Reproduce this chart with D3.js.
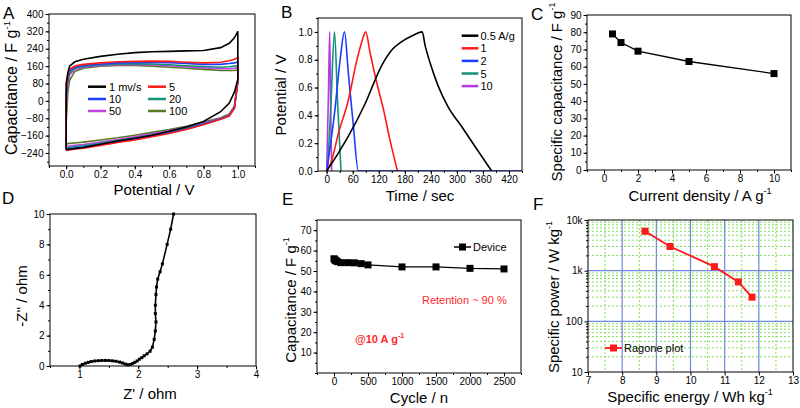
<!DOCTYPE html>
<html><head><meta charset="utf-8">
<script src="https://cdn.jsdelivr.net/npm/d3@7"></script>
<style>
body{margin:0;background:#fff}
text{font-family:"Liberation Sans",Arial,sans-serif}
</style>
</head><body>
<svg id="c" width="800" height="408" xmlns="http://www.w3.org/2000/svg"></svg>
<script>
// ---------- DATA ----------
// A: cyclic voltammetry
const cvPotential = [0, 0.01, 0.02, 0.05, 0.1, 0.2, 0.3, 0.4, 0.5, 0.6, 0.7, 0.8, 0.9, 0.95, 0.98, 1.0];
const cvLabels = ["1 mv/s", "5", "10", "20", "50", "100"];
const cvUpper = [
  [80, 130, 160, 180, 192, 205, 215, 222, 226, 228, 230, 232, 245, 265, 290, 320],
  [40, 120, 145, 160, 168, 175, 180, 182, 183, 182, 178, 175, 178, 185, 192, 200],
  [20, 110, 140, 155, 163, 170, 175, 177, 178, 176, 172, 168, 168, 172, 175, 178],
  [0, 95, 130, 150, 158, 166, 170, 171, 170, 166, 162, 158, 155, 157, 160, 162],
  [-20, 80, 120, 145, 155, 163, 167, 168, 166, 162, 157, 152, 148, 148, 150, 152],
  [-100, 40, 95, 135, 150, 160, 163, 163, 160, 155, 150, 145, 140, 140, 140, 142]
];
const cvLower = [
  [-225, -224, -223, -220, -215, -200, -185, -172, -158, -140, -120, -95, -50, -10, 40, 100],
  [-228, -227, -226, -222, -218, -205, -192, -180, -165, -150, -132, -110, -85, -70, -35, 90],
  [-222, -221, -220, -217, -213, -200, -188, -176, -162, -147, -130, -108, -84, -68, -33, 90],
  [-216, -215, -214, -211, -207, -195, -183, -171, -157, -143, -126, -105, -82, -66, -30, 90],
  [-210, -209, -208, -205, -201, -190, -178, -166, -152, -138, -122, -102, -80, -64, -28, 90],
  [-198, -197, -196, -194, -190, -180, -170, -158, -145, -132, -117, -98, -78, -60, -25, 90]
];
// B: galvanostatic charge/discharge
const gcdLabels = ["0.5 A/g", "1", "2", "5", "10"];
const gcdTime = [
  [0, 25, 50, 88, 127, 150, 173, 196, 220, 227, 238, 257, 280, 311, 341, 380],
  [0, 10, 27, 50, 69, 81, 90, 100, 115, 131, 146, 163],
  [0, 19, 31, 41, 50, 61, 73, 450],
  [2, 10, 18, 25, 33],
  [0, 4, 7, 9, 11.5]
];
const gcdVoltage = [
  [0, 0.12, 0.25, 0.48, 0.76, 0.87, 0.93, 0.97, 1.0, 0.9, 0.78, 0.61, 0.46, 0.32, 0.18, 0],
  [0, 0.06, 0.27, 0.51, 0.79, 0.93, 1.0, 0.85, 0.64, 0.44, 0.22, 0],
  [0, 0.44, 0.8, 1.0, 0.7, 0.34, 0, 0],
  [0, 0.5, 1.0, 0.5, 0],
  [0, 0.55, 1.0, 0.5, 0]
];
// C: rate capability
const rateCurrent = [0.5, 1, 2, 5, 10];
const rateCapacitance = [79, 74, 69, 63, 56];
// D: Nyquist
const nyRe = [1.01, 1.05, 1.1, 1.15, 1.2, 1.26, 1.32, 1.38, 1.44, 1.5, 1.56, 1.62, 1.68, 1.73, 1.78, 1.82, 1.86, 1.9, 1.94, 1.98, 2.02, 2.06, 2.1, 2.15, 2.2, 2.24, 2.27, 2.29, 2.3, 2.29, 2.29, 2.3, 2.31, 2.33, 2.37, 2.41, 2.49, 2.55, 2.6];
const nyIm = [0.0, 0.1, 0.18, 0.24, 0.29, 0.33, 0.35, 0.36, 0.37, 0.36, 0.34, 0.31, 0.26, 0.2, 0.13, 0.08, 0.1, 0.16, 0.24, 0.33, 0.45, 0.55, 0.67, 0.8, 0.97, 1.24, 1.75, 2.3, 2.9, 3.45, 4.0, 4.7, 5.2, 5.72, 6.2, 6.72, 8.0, 9.0, 10.0];
// E: cycling
const cycleN = [0, 10, 20, 30, 50, 100, 200, 300, 400, 500, 1000, 1500, 2000, 2500];
const cycleCap = [56, 55.6, 55.2, 55, 54.6, 54.1, 54.1, 54, 53.6, 53, 52, 52, 51.3, 51];
// F: Ragone
const ragoneEnergy = [8.67, 9.4, 10.7, 11.4, 11.8];
const ragonePower = [6000, 3000, 1200, 600, 300];

// ---------- STYLE ----------
const cvColors = ["#000000", "#ff1a1a", "#1a3cff", "#119178", "#c33fe6", "#577a26"];
const gcdColors = ["#000000", "#ff1a1a", "#1a3cff", "#119178", "#b53ae6"];

const svg = d3.select("#c");

function styleAxis(sel, fs) {
  sel.select(".domain").remove();
  sel.selectAll("line").attr("stroke", "#000").attr("stroke-width", 1);
  sel.selectAll("text").attr("font-size", fs || 10).attr("fill", "#000");
}

function panel(r, x, y, o) {
  const g = svg.append("g");
  const bx = g.append("g").attr("transform", `translate(0,${r.b})`);
  if (o.xMin) bx.append("g").call(d3.axisBottom(x).tickValues(o.xMin).tickSize(2).tickFormat("")).call(styleAxis);
  bx.append("g").call(d3.axisBottom(x).tickValues(o.xMaj).tickSize(3.5).tickPadding(1.5).tickFormat(o.xFmt)).call(styleAxis);
  const ly = g.append("g").attr("transform", `translate(${r.l},0)`);
  if (o.yMin) ly.append("g").call(d3.axisLeft(y).tickValues(o.yMin).tickSize(2).tickFormat("")).call(styleAxis);
  ly.append("g").call(d3.axisLeft(y).tickValues(o.yMaj).tickSize(3.5).tickPadding(2).tickFormat(o.yFmt)).call(styleAxis);
  return g;
}
function frame(r) {
  svg.append("rect").attr("x", r.l).attr("y", r.t).attr("width", r.r - r.l).attr("height", r.b - r.t)
    .attr("fill", "none").attr("stroke", "#000").attr("stroke-width", 1);
}
function title(txt, sup, x, y, rot, fs) {
  const t = svg.append("text").attr("font-size", fs).attr("text-anchor", "middle")
    .attr("transform", `translate(${x},${y})` + (rot ? " rotate(-90)" : ""));
  t.append("tspan").text(txt);
  if (sup) t.append("tspan").attr("font-size", fs * 0.6).attr("dy", -fs * 0.45).text(sup);
}
function letter(L, x, y) {
  svg.append("text").attr("x", x).attr("y", y).attr("font-size", 17).text(L);
}
function clip(id, r) {
  svg.append("clipPath").attr("id", id).append("rect").attr("x", r.l).attr("y", r.t).attr("width", r.r - r.l).attr("height", r.b - r.t);
}
const range = (a, b, s) => d3.range(a, b + s / 2, s);

// ---------- PANEL A ----------
{
  const r = {l: 49, r: 255, t: 14, b: 166};
  const x = d3.scaleLinear().domain([-0.1, 1.1]).range([r.l, r.r]);
  const y = d3.scaleLinear().domain([-300, 400]).range([r.b, r.t]);
  panel(r, x, y, {xMaj: range(0, 1, 0.2), xMin: range(-0.1, 1.1, 0.1), xFmt: d3.format(".1f"),
    yMaj: range(-240, 400, 80), yMin: range(-280, 400, 40), yFmt: d3.format("d")});
  const line = d3.line().x(d => x(d[0])).y(d => y(d[1]));
  for (let i = cvLabels.length - 1; i >= 0; i--) {
    const pts = cvPotential.map((p, k) => [p, cvLower[i][k]])
      .concat(cvPotential.map((p, k) => [p, cvUpper[i][k]]).reverse());
    pts.push(pts[0]);
    svg.append("path").attr("d", line(pts)).attr("fill", "none").attr("stroke", cvColors[i]).attr("stroke-width", 1.6);
  }
  frame(r);
  const lx = [88, 148], ly = [86.7, 99, 111];
  cvLabels.forEach((lab, i) => {
    const cx = lx[i % 2], cy = ly[Math.floor(i / 2)];
    svg.append("line").attr("x1", cx).attr("x2", cx + 18).attr("y1", cy).attr("y2", cy).attr("stroke", cvColors[i]).attr("stroke-width", 2.5);
    svg.append("text").attr("x", cx + 21).attr("y", cy + 4).attr("font-size", 11).text(lab);
  });
  title("Potential / V", null, 154, 195, false, 15);
  title("Capacitance / F g", "-1", 17, 88, true, 16);
  letter("A", 3, 19);
}

// ---------- PANEL B ----------
{
  const r = {l: 318, r: 522, t: 18, b: 171};
  const x = d3.scaleLinear().domain([-20, 450]).range([r.l, r.r]);
  const y = d3.scaleLinear().domain([0, 1.1]).range([r.b, r.t]);
  panel(r, x, y, {xMaj: range(0, 420, 60), xMin: range(0, 450, 30), xFmt: d3.format("d"),
    yMaj: range(0, 1, 0.2), yMin: range(0, 1.1, 0.1), yFmt: d3.format(".1f")});
  clip("clipB", r);
  const line = d3.line().x(d => x(d[0])).y(d => y(d[1])).curve(d3.curveMonotoneX);
  for (let i = gcdLabels.length - 1; i >= 0; i--) {
    const pts = gcdTime[i].map((t, k) => [t, gcdVoltage[i][k]]);
    svg.append("path").attr("d", line(pts)).attr("fill", "none")
      .attr("stroke", gcdColors[i]).attr("stroke-width", 1.6).attr("clip-path", "url(#clipB)");
  }
  frame(r);
  gcdLabels.forEach((lab, i) => {
    const cy = 35.7 + i * 12.6;
    svg.append("line").attr("x1", 461.7).attr("x2", 478.3).attr("y1", cy).attr("y2", cy).attr("stroke", gcdColors[i]).attr("stroke-width", 2.5);
    svg.append("text").attr("x", 480.5).attr("y", cy + 4).attr("font-size", 11).text(lab);
  });
  title("Time / sec", null, 420, 201, false, 15);
  title("Potential / V", null, 286, 95, true, 15);
  letter("B", 281, 18);
}

// ---------- PANEL C ----------
{
  const r = {l: 587, r: 791, t: 15, b: 170};
  const x = d3.scaleLinear().domain([-1, 11]).range([r.l, r.r]);
  const y = d3.scaleLinear().domain([0, 90]).range([r.b, r.t]);
  panel(r, x, y, {xMaj: range(0, 10, 2), xMin: range(-1, 11, 1), xFmt: d3.format("d"),
    yMaj: range(0, 90, 10), yMin: range(0, 90, 5), yFmt: d3.format("d")});
  const pts = rateCurrent.map((c, k) => [c, rateCapacitance[k]]);
  svg.append("path").attr("d", d3.line().x(d => x(d[0])).y(d => y(d[1]))(pts)).attr("fill", "none").attr("stroke", "#000").attr("stroke-width", 1.3);
  svg.selectAll(null).data(pts).enter().append("rect")
    .attr("x", d => x(d[0]) - 3.5).attr("y", d => y(d[1]) - 3.5).attr("width", 7).attr("height", 7).attr("fill", "#000");
  frame(r);
  title("Current density / A g", "-1", 700, 201, false, 15);
  title("Specific capacitance / F g", "-1", 562, 92, true, 15);
  letter("C", 531, 20);
}

// ---------- PANEL D ----------
{
  const r = {l: 50, r: 256, t: 214, b: 366};
  const x = d3.scaleLinear().domain([0.5, 4]).range([r.l, r.r]);
  const y = d3.scaleLinear().domain([0, 10]).range([r.b, r.t]);
  panel(r, x, y, {xMaj: range(1, 4, 1), xMin: range(0.5, 4, 0.5), xFmt: d3.format("d"),
    yMaj: range(0, 10, 2), yMin: range(0, 10, 1), yFmt: d3.format("d")});
  const pts = nyRe.map((v, k) => [v, nyIm[k]]);
  svg.append("path").attr("d", d3.line().x(d => x(d[0])).y(d => y(d[1]))(pts)).attr("fill", "none").attr("stroke", "#000").attr("stroke-width", 1.6);
  svg.selectAll(null).data(pts).enter().append("rect")
    .attr("x", d => x(d[0]) - 1.5).attr("y", d => y(d[1]) - 1.5).attr("width", 3).attr("height", 3).attr("fill", "#000");
  frame(r);
  title("Z' / ohm", null, 150, 399, false, 15);
  title("-Z'' / ohm", null, 27, 296, true, 15);
  letter("D", 2, 204);
}

// ---------- PANEL E ----------
{
  const r = {l: 317, r: 521, t: 220, b: 373};
  const x = d3.scaleLinear().domain([-250, 2750]).range([r.l, r.r]);
  const y = d3.scaleLinear().domain([0, 75]).range([r.b, r.t]);
  panel(r, x, y, {xMaj: range(0, 2500, 500), xMin: range(-250, 2750, 250), xFmt: d3.format("d"),
    yMaj: range(10, 70, 10), yMin: range(0, 75, 5), yFmt: d3.format("d")});
  const pts = cycleN.map((n, k) => [n, cycleCap[k]]);
  svg.append("path").attr("d", d3.line().x(d => x(d[0])).y(d => y(d[1]))(pts)).attr("fill", "none").attr("stroke", "#000").attr("stroke-width", 1.3);
  svg.selectAll(null).data(pts).enter().append("rect")
    .attr("x", d => x(d[0]) - 3.5).attr("y", d => y(d[1]) - 3.5).attr("width", 7).attr("height", 7).attr("fill", "#000");
  frame(r);
  svg.append("line").attr("x1", 454).attr("x2", 471).attr("y1", 247).attr("y2", 247).attr("stroke", "#000").attr("stroke-width", 1.5);
  svg.append("rect").attr("x", 459).attr("y", 243.5).attr("width", 7).attr("height", 7).attr("fill", "#000");
  svg.append("text").attr("x", 473).attr("y", 251).attr("font-size", 11).text("Device");
  svg.append("text").attr("x", 422).attr("y", 304).attr("font-size", 11).attr("fill", "#ff2a2a").text("Retention ~ 90 %");
  const t = svg.append("text").attr("x", 355).attr("y", 343).attr("font-size", 11).attr("font-weight", "bold").attr("fill", "#ff2a2a");
  t.append("tspan").text("@10 A g");
  t.append("tspan").attr("font-size", 7).attr("dy", -5).text("-1");
  title("Cycle / n", null, 419, 402.5, false, 15);
  title("Capacitance / F g", "-1", 296, 300, true, 15);
  letter("E", 282, 205);
}

// ---------- PANEL F ----------
{
  const r = {l: 588, r: 793, t: 220, b: 372};
  const x = d3.scaleLinear().domain([7, 13]).range([r.l, r.r]);
  const y = d3.scaleLog().domain([10, 10000]).range([r.b, r.t]);
  const logMinor = [];
  [10, 100, 1000].forEach(d => { for (let m = 2; m <= 9; m++) logMinor.push(d * m); });
  const fmtF = d => d >= 1000 ? (d / 1000) + "k" : String(d);
  // grid
  const gg = svg.append("g");
  gg.selectAll(null).data(range(7.5, 12.5, 0.5).filter(v => Math.abs(v - Math.round(v)) > 0.01)).enter().append("line")
    .attr("x1", d => x(d)).attr("x2", d => x(d)).attr("y1", r.t).attr("y2", r.b)
    .attr("stroke", "#7de05a").attr("stroke-width", 1).attr("stroke-dasharray", "2,2");
  gg.selectAll(null).data(logMinor).enter().append("line")
    .attr("x1", r.l).attr("x2", r.r).attr("y1", d => y(d)).attr("y2", d => y(d))
    .attr("stroke", "#7de05a").attr("stroke-width", 1).attr("stroke-dasharray", "2,2");
  gg.selectAll(null).data(range(8, 12, 1)).enter().append("line")
    .attr("x1", d => x(d)).attr("x2", d => x(d)).attr("y1", r.t).attr("y2", r.b)
    .attr("stroke", "#6f86e0").attr("stroke-width", 1.2);
  gg.selectAll(null).data([100, 1000]).enter().append("line")
    .attr("x1", r.l).attr("x2", r.r).attr("y1", d => y(d)).attr("y2", d => y(d))
    .attr("stroke", "#6f86e0").attr("stroke-width", 1.2);
  panel(r, x, y, {xMaj: range(7, 13, 1), xMin: null, xFmt: d3.format("d"),
    yMaj: [10, 100, 1000, 10000], yMin: logMinor, yFmt: fmtF});
  const pts = ragoneEnergy.map((e, k) => [e, ragonePower[k]]);
  svg.append("path").attr("d", d3.line().x(d => x(d[0])).y(d => y(d[1]))(pts)).attr("fill", "none").attr("stroke", "#ff1a1a").attr("stroke-width", 1.8);
  svg.selectAll(null).data(pts).enter().append("rect")
    .attr("x", d => x(d[0]) - 3.5).attr("y", d => y(d[1]) - 3.5).attr("width", 7).attr("height", 7).attr("fill", "#ff1a1a");
  frame(r);
  svg.append("line").attr("x1", 605).attr("x2", 622).attr("y1", 348).attr("y2", 348).attr("stroke", "#ff1a1a").attr("stroke-width", 1.8);
  svg.append("rect").attr("x", 610).attr("y", 344.5).attr("width", 7).attr("height", 7).attr("fill", "#ff1a1a");
  svg.append("text").attr("x", 624).attr("y", 352).attr("font-size", 11).text("Ragone plot");
  title("Specific energy / Wh kg", "-1", 690, 402, false, 15);
  title("Specific power / W kg", "-1", 559, 297, true, 15);
  letter("F", 533, 210);
}
</script>
</body></html>
